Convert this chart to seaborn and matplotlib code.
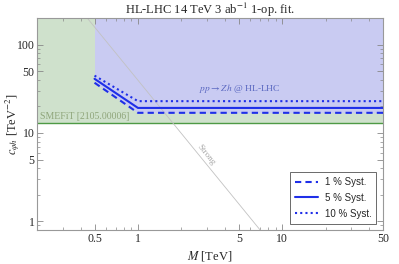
import numpy as np
import pandas as pd
import matplotlib
matplotlib.use("Agg")
import matplotlib.pyplot as plt
import seaborn as sns

# ---- data ----
mass = [0.5, 1.0, 50.0]                 # TeV
syst_1 = [37.0, 16.9, 16.9]             # 1 % syst.
syst_5 = [41.0, 19.2, 19.2]             # 5 % syst.
syst_10 = [44.5, 22.9, 22.9]            # 10 % syst.
smefit_bound = 13.1
strong_mass = [0.3, 10.0]
strong_c = [439.0, 0.395]
x_ticks = [0.5, 1, 5, 10, 50]
y_ticks = [1, 5, 10, 50, 100]

sns.set_style("ticks")
plt.rcParams["font.family"] = ["Liberation Serif", "DejaVu Serif"]
plt.rcParams["mathtext.fontset"] = "stix"

df = pd.DataFrame({
    "M": mass * 3,
    "c": syst_1 + syst_5 + syst_10,
    "syst": ["1 % Syst."] * 3 + ["5 % Syst."] * 3 + ["10 % Syst."] * 3,
})

fig = plt.figure(figsize=(3.99, 2.64), dpi=100)
ax = fig.add_axes([0.093, 0.129, 0.867, 0.803])
ax.set_xscale("log")
ax.set_yscale("log")
xmin, xmax, ymin, ymax = 0.2, 50, 0.8, 200

# SMEFiT region and HL-LHC region
ax.fill_between([xmin, xmax], smefit_bound, ymax, color="#cfe1cc", lw=0, zorder=0)
ax.axhline(smefit_bound, color="#4e9a45", lw=1.0, zorder=1)
ax.fill_between(mass, syst_1, ymax, color="#c9cbf2", lw=0, zorder=0.5)

# strong coupling line
ax.plot(strong_mass, strong_c, color="#c2c2c2", lw=0.6, zorder=2)

sns.lineplot(data=df, x="M", y="c", hue="syst", style="syst",
             palette=["#1f2fe8"] * 3,
             dashes={"1 % Syst.": (3, 2), "5 % Syst.": "", "10 % Syst.": (1, 1.5)},
             lw=1.5, ax=ax, zorder=3)

ax.set_xlim(xmin, xmax)
ax.set_ylim(ymin, ymax)
ax.set_xticks(x_ticks)
ax.set_xticklabels(["0.5", "1", "5", "10", "50"])
ax.set_yticks(y_ticks)
ax.set_yticklabels(["1", "5", "10", "50", "100"])
ax.tick_params(which="both", direction="in", top=True, right=True,
               color="#888888", labelsize=8.5, pad=2)
ax.tick_params(which="major", length=4, width=0.6)
ax.tick_params(which="minor", length=2, width=0.5)
ax.tick_params(axis="x", which="minor", labelbottom=False)
ax.tick_params(axis="y", which="minor", labelleft=False)
for sp in ax.spines.values():
    sp.set_color("#999999")
    sp.set_linewidth(0.8)

ax.set_xlabel("$M$ [TeV]", fontsize=9, labelpad=3)
ax.set_ylabel(r"$c_{\varphi h}$ [TeV$^{-2}$]", fontsize=9)
ax.yaxis.set_label_coords(-0.045, 0.5)
ax.set_title("HL-LHC 14 TeV 3 ab$^{-1}$ 1-op. fit.", fontsize=9, pad=3)

ax.text(0.21, 14.3, "SMEFiT [2105.00006]", color="#8fa57a", fontsize=7)
ax.text(5.1, 27.0, r"$pp \to Zh$ @ HL-LHC", color="#5866c0", fontsize=6.8,
        ha="center", va="bottom")
ax.text(2.95, 5.6, "Strong", color="#a8a8a8", fontsize=6.5, rotation=-51,
        ha="center", va="center")

leg = ax.legend(loc="lower right", bbox_to_anchor=(0.98, 0.03),
                borderaxespad=0,
                prop={"family": "Liberation Sans", "size": 7},
                handlelength=2.3, frameon=True, fancybox=False,
                borderpad=0.5, labelspacing=0.6, handletextpad=0.7)
leg.get_frame().set_edgecolor("#444444")
leg.get_frame().set_linewidth(0.7)

fig.savefig("out.png", dpi=100)
